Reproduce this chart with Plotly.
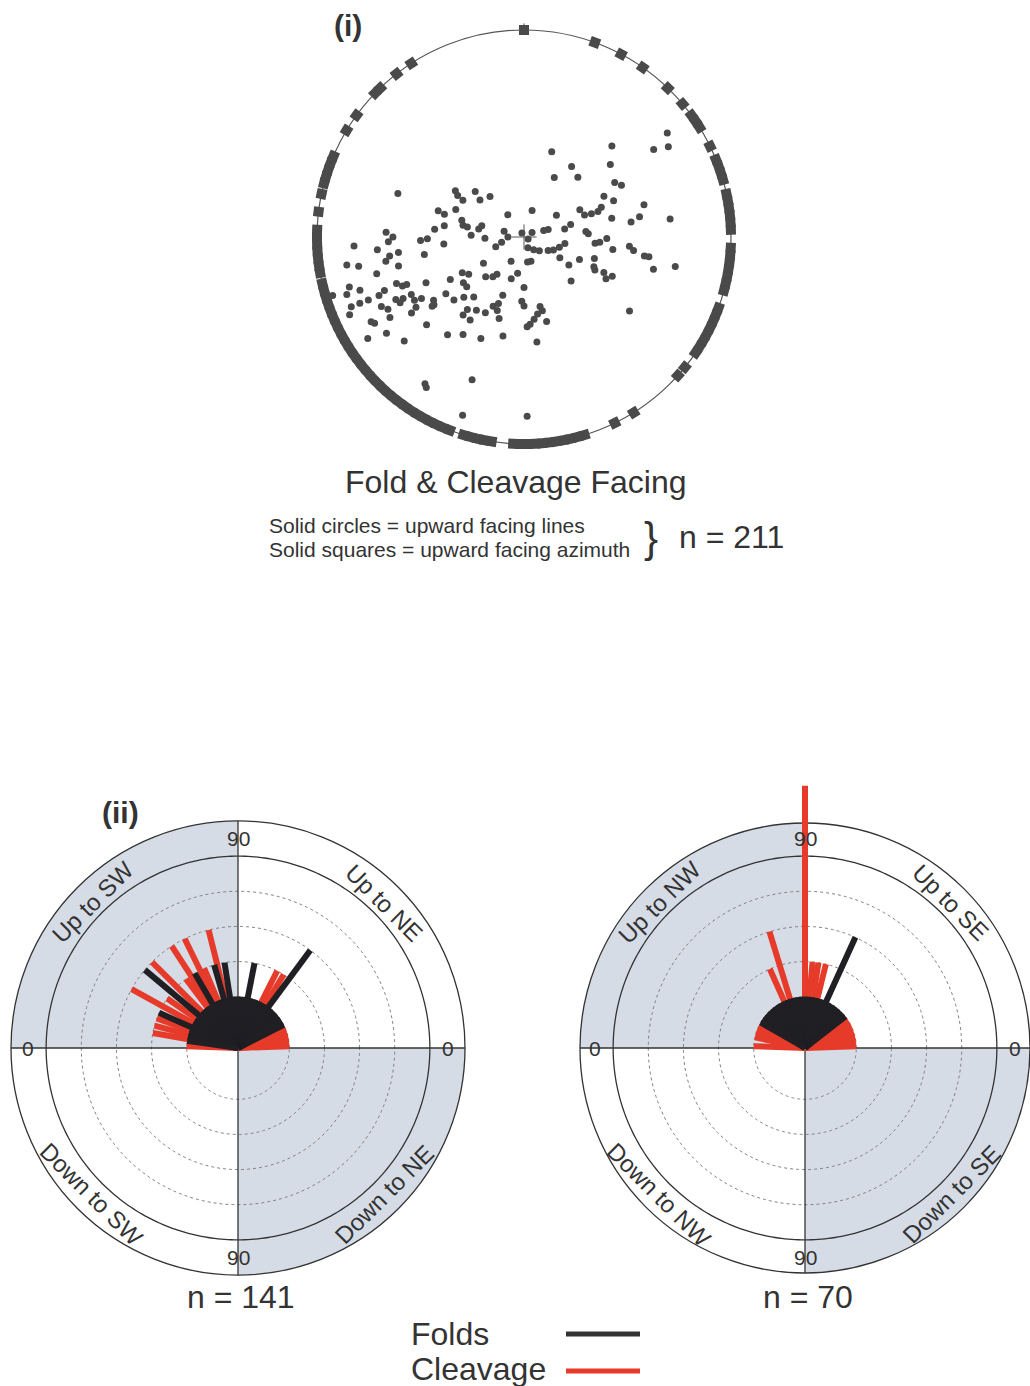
import plotly.graph_objects as go

W, H = 1030, 1386


def fx(x):
    return x / W


def fy(y):
    return 1 - y / H


# ---------------- (i) Fold & cleavage facing stereonet ----------------
# Upward-facing lines: trend (deg) and plunge (deg)
line_trend = [54, 56, 58, 44, 18, 50, 34, 27, 42, 59, 62, 63, 68, 289, 304, 302, 301, 313, 310, 320,
              324, 17, 56, 64, 70, 71, 71, 69, 78, 75, 82, 80, 83, 287, 286, 292, 285, 281, 280, 285,
              280, 275, 278, 272, 270, 268, 269, 272, 268, 286, 270, 333, 117, 61, 73, 72, 79, 75, 85, 87,
              267, 265, 268, 265, 260, 251, 257, 160, 143, 132, 119, 114, 106, 99, 95, 94, 91, 98, 95, 97,
              99, 99, 263, 262, 260, 164, 172, 120, 112, 107, 261, 260, 257, 237, 208, 122, 113, 115, 104, 101,
              256, 240, 236, 224, 218, 216, 197, 190, 114, 117, 114, 133, 250, 248, 248, 245, 240, 233, 229, 180,
              254, 252, 252, 248, 248, 249, 244, 243, 243, 240, 239, 235, 233, 234, 228, 225, 220, 200, 204, 201,
              182, 180, 248, 248, 244, 242, 239, 242, 237, 236, 233, 218, 213, 207, 200, 197, 167, 166, 170, 173,
              176, 178, 165, 125, 246, 241, 240, 218, 213, 228, 235, 237, 229, 218, 212, 203, 192, 173, 200, 214,
              213, 199, 179, 253]
line_plunge = [13, 22, 16, 35, 51, 41, 53, 61, 55, 44, 42, 51, 48, 32, 54, 56, 59, 61, 65, 67,
               78, 78, 73, 63, 62, 59, 56, 54, 51, 36, 43, 39, 26, 51, 54, 58, 62, 63, 65, 71,
               70, 51, 55, 30, 33, 45, 48, 67, 73, 81, 83, 88, 88, 86, 79, 81, 72, 69, 63, 62,
               16, 26, 31, 55, 46, 77, 80, 85, 83, 81, 78, 76, 74, 72, 59, 57, 54, 51, 44, 42,
               37, 35, 35, 31, 29, 79, 79, 72, 64, 58, 12, 17, 34, 69, 78, 67, 57, 56, 32, 23,
               24, 59, 61, 66, 68, 70, 71, 74, 52, 50, 48, 62, 31, 33, 35, 43, 53, 57, 57, 68,
               11, 15, 9, 17, 22, 25, 28, 31, 35, 35, 38, 42, 41, 48, 49, 53, 56, 63, 57, 59,
               62, 60, 9, 13, 21, 23, 22, 29, 34, 31, 40, 50, 52, 53, 56, 53, 59, 57, 56, 54,
               52, 51, 52, 34, 7, 14, 15, 47, 47, 33, 17, 9, 21, 36, 40, 42, 46, 44, 24, 13,
               12, 8, 12, 3]

# Upward-facing azimuths, plotted on the primitive circle
azimuth_trend = [0, 20, 28, 35, 44, 50, 54, 56, 58, 64, 68, 70, 72, 74, 78, 80, 82, 84, 86, 88,
                 93, 95, 97, 99, 101, 103, 105, 110, 112, 114, 116, 118, 120, 122, 124, 129, 132, 148, 154,
                 163, 165, 167, 169, 171, 173, 175, 177, 179, 181, 183, 189, 191, 193, 195, 197,
                 201, 203, 205, 207, 209, 211, 213, 215, 217, 219, 221, 223, 225, 227, 229, 231, 233,
                 235, 237, 239, 241, 243, 245, 247, 249, 251, 253, 255, 257, 260, 262, 264, 266, 268,
                 270, 272, 277, 282, 285, 287, 289, 291, 293, 301, 306, 314, 316, 322, 327]

# ---------------- (ii) Facing rose diagrams ----------------
# Angle around the rose (deg, anticlockwise from the right-hand "0"), bar count
sw_ne_fold_angle = [27, 30, 33, 36, 39, 42, 45, 48, 51, 53.5, 56, 60, 63, 66, 69, 72, 75, 79, 82, 85,
                    88, 91, 94, 97, 99, 103, 106, 109, 112, 115, 118, 120, 124, 127, 130, 133, 137, 140,
                    143, 146, 149, 153, 156, 159, 162, 165, 168, 172]
sw_ne_fold_count = [1, 1, 1, 1, 1, 1, 1, 1, 1, 3, 1, 1, 1, 1, 1, 1, 1, 2, 1, 1,
                    1, 1, 1, 1, 2, 1, 2, 1, 1, 1, 1, 2, 1, 1, 1, 1, 1, 3,
                    1, 1, 1, 1, 2, 1, 1, 1, 1, 1]
sw_ne_cleav_angle = [2, 5, 8, 11, 14, 17, 20, 23, 26, 58, 63, 104, 113, 116, 123, 127, 135, 145,
                     151, 160, 165, 170, 175, 178]
sw_ne_cleav_count = [1, 1, 1, 1, 1, 1, 1, 1, 1, 2, 2, 3, 2, 3, 3, 2, 3, 2,
                     3, 2, 2, 2, 1, 1]

nw_se_fold_angle = [38, 42, 46, 50, 54, 58, 62, 65.5, 70, 74, 78, 82, 86, 90, 94, 98, 102, 106,
                    110, 114, 118, 122, 126, 130, 134, 138, 142, 146, 150]
nw_se_fold_count = [1, 1, 1, 1, 1, 1, 1, 3, 1, 1, 1, 1, 1, 1, 1, 1, 1, 1,
                    1, 1, 1, 1, 1, 1, 1, 1, 1, 1, 1]
nw_se_cleav_angle = [2, 8, 13, 18, 23, 28, 33, 38, 76, 81, 85, 90, 107, 114, 141, 146, 156, 162, 168, 178]
nw_se_cleav_count = [1, 1, 1, 1, 1, 1, 1, 1, 2, 2, 2, 7, 3, 2, 1, 1, 1, 1, 1, 1]

ring_counts = [1, 2, 3, 4]   # dotted rings
frame_ring = 5               # solid ring
outer_ring = 6

# ---------------- styling ----------------
FONT = "Liberation Sans, Arial, sans-serif"
TXT = "#333333"
INK = "#4a4a4a"
FOLD = "#1f1f24"
CLEAV = "#e63b2a"
SHADE = "#d6dce6"
RING0 = -0.46          # radial value at the rose centre
PX_PER_COUNT = 35.14   # ring spacing

fig = go.Figure()

# ---- stereonet ----
fig.add_trace(go.Scatterpolar(
    theta=azimuth_trend, r=[0] * len(azimuth_trend), mode="markers", subplot="polar",
    marker=dict(symbol="square", size=10, color=INK, angle=azimuth_trend),
    cliponaxis=False, hoverinfo="skip"))
fig.add_trace(go.Scatterpolar(
    theta=line_trend, r=line_plunge, mode="markers", subplot="polar",
    marker=dict(size=7, color=INK), hoverinfo="skip"))
fig.add_trace(go.Scatterpolar(
    theta=[0], r=[90], mode="markers", subplot="polar",
    marker=dict(symbol="cross-thin", size=18, line=dict(width=1, color="#555555")),
    hoverinfo="skip"))


def spokes(angles, counts):
    th, r = [], []
    for a, c in zip(angles, counts):
        th += [a, a, None]
        r += [RING0, c, None]
    return th, r


def rose_background(sub, rmax):
    arc = list(range(0, 91))
    for a0 in (90, 270):
        th = [a0] + [a0 + a for a in arc] + [a0]
        rr = [RING0] + [rmax] * len(arc) + [RING0]
        fig.add_trace(go.Scatterpolar(theta=th, r=rr, mode="lines", fill="toself",
                                      fillcolor=SHADE, line=dict(width=0, color=SHADE),
                                      subplot=sub, hoverinfo="skip"))
    circ = list(range(0, 361, 1))
    for k in ring_counts:
        fig.add_trace(go.Scatterpolar(theta=circ, r=[k] * len(circ), mode="lines",
                                      line=dict(color="#808080", width=1, dash="dot"),
                                      subplot=sub, hoverinfo="skip"))
    fig.add_trace(go.Scatterpolar(theta=circ, r=[frame_ring] * len(circ), mode="lines",
                                  line=dict(color="#333333", width=1.3),
                                  subplot=sub, hoverinfo="skip"))
    fig.add_trace(go.Scatterpolar(theta=[0, 180, None, 90, 270],
                                  r=[rmax, rmax, None, rmax, rmax], mode="lines",
                                  line=dict(color="#333333", width=1.3),
                                  subplot=sub, hoverinfo="skip"))


def rose_bars(sub, angles, counts, color, keep):
    sel = [(a, c) for a, c in zip(angles, counts) if keep(c)]
    if not sel:
        return
    th, r = spokes([a for a, _ in sel], [c for _, c in sel])
    fig.add_trace(go.Scatterpolar(theta=th, r=r, mode="lines",
                                  line=dict(color=color, width=6),
                                  subplot=sub, hoverinfo="skip"))


def inside(c):
    return c <= outer_ring


def beyond(c):
    return c > outer_ring


# left rose (SW / NE)
L_CX, L_CY, L_R = 238, 1048, 227
L_RMAX = RING0 + L_R / PX_PER_COUNT
rose_background("polar2", L_RMAX)
rose_bars("polar2", sw_ne_cleav_angle, sw_ne_cleav_count, CLEAV, inside)
rose_bars("polar2", sw_ne_fold_angle, sw_ne_fold_count, FOLD, inside)

# right rose (NW / SE): background, long bars, then the short bars on top
R_CX, R_CY, R_R = 805, 1048, 225
R_RMAX = RING0 + R_R / PX_PER_COUNT
T_R = 268
T_RMAX = RING0 + T_R / PX_PER_COUNT
rose_background("polar3", R_RMAX)
rose_bars("polar4", nw_se_cleav_angle, nw_se_cleav_count, CLEAV, beyond)
rose_bars("polar5", nw_se_cleav_angle, nw_se_cleav_count, CLEAV, inside)
rose_bars("polar5", nw_se_fold_angle, nw_se_fold_count, FOLD, inside)


def rose_polar(cx, cy, r, rmax, outline):
    return dict(
        domain=dict(x=[fx(cx - r), fx(cx + r)], y=[fy(cy + r), fy(cy - r)]),
        bgcolor="rgba(0,0,0,0)",
        radialaxis=dict(visible=False, range=[RING0, rmax]),
        angularaxis=dict(visible=outline, direction="counterclockwise", rotation=0,
                         showline=outline, linecolor="#333333", linewidth=1.3,
                         showgrid=False, ticks="", showticklabels=False),
    )


S_CX, S_CY, S_R = 524, 237, 207

fig.update_layout(
    width=W, height=H, margin=dict(l=0, r=0, t=0, b=0), autosize=False,
    paper_bgcolor="white", plot_bgcolor="white", showlegend=False,
    font=dict(family=FONT, color=TXT),
    polar=dict(
        domain=dict(x=[fx(S_CX - S_R), fx(S_CX + S_R)], y=[fy(S_CY + S_R), fy(S_CY - S_R)]),
        bgcolor="rgba(0,0,0,0)",
        radialaxis=dict(visible=False, range=[90, 0]),
        angularaxis=dict(direction="clockwise", rotation=90, showline=True,
                         linecolor="#555555", linewidth=1.2, showgrid=False,
                         tickvals=[0], ticks="outside", ticklen=6, tickcolor="#555555",
                         showticklabels=False, layer="below traces"),
    ),
    polar2=rose_polar(L_CX, L_CY, L_R, L_RMAX, True),
    polar3=rose_polar(R_CX, R_CY, R_R, R_RMAX, True),
    polar4=dict(
        domain=dict(x=[fx(R_CX - 75), fx(R_CX + 75)], y=[fy(R_CY), fy(R_CY - T_R)]),
        sector=[80, 100],
        bgcolor="rgba(0,0,0,0)",
        radialaxis=dict(visible=False, range=[RING0, T_RMAX]),
        angularaxis=dict(visible=False, direction="counterclockwise", rotation=0),
    ),
    polar5=rose_polar(R_CX, R_CY, R_R, R_RMAX, False),
)

ann = []


def text(x, y, s, size, anchor="center", bold=False, angle=0, color=TXT):
    ann.append(dict(x=fx(x), y=fy(y), xref="paper", yref="paper", text=("<b>%s</b>" % s) if bold else s,
                    showarrow=False, xanchor=anchor, yanchor="middle", textangle=angle,
                    font=dict(family=FONT, size=size, color=color)))


text(348, 26, "(i)", 30, bold=True)
text(516, 482, "Fold &amp; Cleavage Facing", 32)
text(267, 525, "Solid circles = upward facing lines", 21, anchor="left")
text(267, 549, "Solid squares = upward facing azimuth", 21, anchor="left")
text(651, 537, "}", 42)
text(731, 537, "n = 211", 32)

text(120, 812, "(ii)", 30, bold=True)

for cx, labels, n in ((L_CX, ("Up to SW", "Up to NE", "Down to SW", "Down to NE"), "n = 141"),
                      (R_CX, ("Up to NW", "Up to SE", "Down to NW", "Down to SE"), "n = 70")):
    cy = 1048
    d = 146
    text(cx - d, cy - d, labels[0], 24, angle=-45)
    text(cx + d, cy - d, labels[1], 24, angle=45)
    text(cx - d, cy + d, labels[2], 24, angle=45)
    text(cx + d, cy + d, labels[3], 24, angle=-45)
    text(cx, cy - 209, "90", 21)
    text(cx, cy + 209, "90", 21)
    text(cx - 210, cy, "0", 21)
    text(cx + 210, cy, "0", 21)
    text(cx + 3, 1297, n, 32)

text(409, 1334, "Folds", 32, anchor="left")
text(409, 1369, "Cleavage", 32, anchor="left")

fig.update_layout(
    annotations=ann,
    shapes=[
        dict(type="line", xref="paper", yref="paper", x0=fx(566), x1=fx(640), y0=fy(1334), y1=fy(1334),
             line=dict(color="#333333", width=5)),
        dict(type="line", xref="paper", yref="paper", x0=fx(566), x1=fx(640), y0=fy(1371), y1=fy(1371),
             line=dict(color=CLEAV, width=5)),
    ],
)

fig.write_html("out.html")
